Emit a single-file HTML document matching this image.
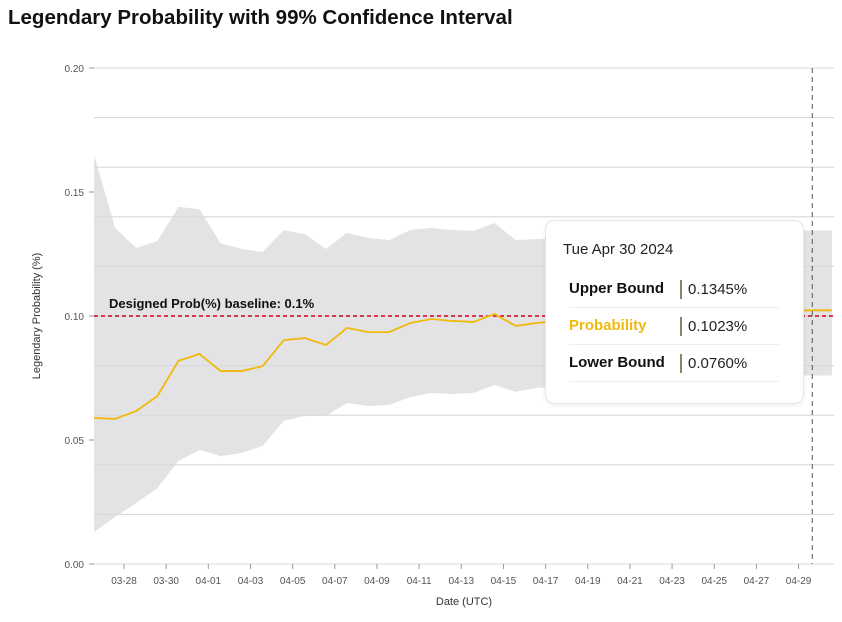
<!DOCTYPE html>
<html><head><meta charset="utf-8"><style>
body{margin:0;background:#fff;font-family:"Liberation Sans",sans-serif;}
#wrap{position:relative;width:842px;height:622px;overflow:hidden}
h1{position:absolute;left:8px;top:6px;margin:0;font-size:20.5px;font-weight:bold;color:#111}
#tip{position:absolute;left:545px;top:220px;width:257px;height:182px;background:#fff;border:1px solid #e6e6e6;border-radius:10px;box-shadow:0 1px 4px rgba(0,0,0,0.08)}
.dt{position:absolute;left:17px;top:20px;font-size:15px;color:#222}
.row{position:absolute;left:23px;width:210px;height:36px;border-bottom:1px solid #eee;font-size:15px}
.row .k{position:absolute;left:0;top:9px;font-weight:bold;color:#111}
.row .v{position:absolute;left:111px;top:9px;color:#222;border-left:2px solid #888860;padding-left:6px;line-height:19px}
</style></head><body>
<div id="wrap">
<h1>Legendary Probability with 99% Confidence Interval</h1>
<svg id="svg" width="842" height="622" style="position:absolute;left:0;top:0"></svg>
<div id="tip">
<div class="dt">Tue Apr 30 2024</div>
<div class="row" style="top:50px"><span class="k">Upper Bound</span><span class="v">0.1345%</span></div>
<div class="row" style="top:87px"><span class="k" style="color:#f0b90b">Probability</span><span class="v">0.1023%</span></div>
<div class="row" style="top:124px"><span class="k">Lower Bound</span><span class="v">0.0760%</span></div>
</div>
</div>
<script>
const dayOffsets=[-1.42,-0.42,0.58,1.58,2.58,3.58,4.58,5.58,6.58,7.58,8.58,9.58,10.58,11.58,12.58,13.58,14.58,15.58,16.58,17.58,18.58,19.58,20.58,21.58,22.58,23.58,24.58,25.58,26.58,27.58,28.58,29.58,30.58,31.58,32.58,33.58];
const probability=[0.0589,0.0585,0.0617,0.0677,0.0819,0.0847,0.0778,0.0778,0.0798,0.0903,0.0911,0.0883,0.0952,0.0935,0.0935,0.0972,0.0988,0.098,0.0976,0.1008,0.096,0.0972,0.098,0.0985,0.099,0.0995,0.1,0.1,0.1005,0.101,0.1012,0.1015,0.1018,0.102,0.1023,0.1023];
const upper=[0.1649,0.1355,0.1274,0.1302,0.144,0.1431,0.1294,0.127,0.1258,0.1347,0.133,0.127,0.1335,0.1315,0.1306,0.1347,0.1355,0.1347,0.1343,0.1375,0.1306,0.131,0.1315,0.132,0.1325,0.133,0.1332,0.1335,0.1338,0.134,0.1342,0.1343,0.1344,0.1345,0.1345,0.1345];
const lower=[0.0129,0.019,0.0246,0.0306,0.0415,0.046,0.0435,0.0448,0.0476,0.0577,0.0597,0.0597,0.0649,0.0637,0.0641,0.0673,0.069,0.0685,0.069,0.0722,0.0694,0.071,0.0715,0.072,0.0725,0.073,0.0735,0.074,0.0745,0.075,0.0752,0.0755,0.0758,0.076,0.076,0.076];
const yTicks=[0,0.05,0.1,0.15,0.2];
const xTickLabels=["03-28","03-30","04-01","04-03","04-05","04-07","04-09","04-11","04-13","04-15","04-17","04-19","04-21","04-23","04-25","04-27","04-29"];
const baseline=0.1;
const hoverDay=32.65;
const NS="http://www.w3.org/2000/svg";
const svg=document.getElementById('svg');
const L=94,R=834,T=68,B=564;
const X=d=>124+21.08*d;
const Y=v=>B-(v/0.2)*(B-T);
function mk(tag,at,parent){const e=document.createElementNS(NS,tag);for(const k in at)e.setAttribute(k,at[k]);(parent||svg).appendChild(e);return e;}
let d='';dayOffsets.forEach((dd,i)=>{d+=(i?'L':'M')+X(dd)+','+Y(upper[i]);});
for(let i=dayOffsets.length-1;i>=0;i--)d+='L'+X(dayOffsets[i])+','+Y(lower[i]);
const band=mk('path',{d:d+'Z',fill:'#e3e3e5'});


for(let i=0;i<=10;i++){const g=mk('line',{x1:L,x2:R,y1:Y(i*0.02),y2:Y(i*0.02),stroke:'#d9d9d9','stroke-width':1.1});

}
yTicks.forEach(v=>{const t=mk('text',{x:84,y:Y(v)+4,'text-anchor':'end','font-size':10,fill:'#555'});t.textContent=v.toFixed(2);


mk('line',{x1:89,x2:94,y1:Y(v),y2:Y(v),stroke:'#999'});});
xTickLabels.forEach((s,i)=>{const x=X(i*2);mk('line',{x1:x,x2:x,y1:B,y2:B+5,stroke:'#999'});
const t=mk('text',{x:x,y:B+20,'text-anchor':'middle','font-size':10,fill:'#555'});t.textContent=s;

});
const bl=mk('line',{x1:L,x2:R,y1:Y(baseline),y2:Y(baseline),stroke:'#d0021b','stroke-width':1.5,'stroke-dasharray':'4,3'});


const blt=mk('text',{x:109,y:Y(baseline)-8,'font-size':13,'font-weight':'bold',fill:'#111'});blt.textContent='Designed Prob(%) baseline: 0.1%';


let p='';dayOffsets.forEach((dd,i)=>{p+=(i?'L':'M')+X(dd)+','+Y(probability[i]);});
const pl=mk('path',{d:p,fill:'none',stroke:'#f0b90b','stroke-width':1.8});


const hv=mk('line',{x1:X(hoverDay),x2:X(hoverDay),y1:T,y2:B,stroke:'#555','stroke-dasharray':'5,4'});


const yt=mk('text',{x:0,y:0,'font-size':11,fill:'#333','text-anchor':'middle',transform:'translate(40,316) rotate(-90)'});yt.textContent='Legendary Probability (%)';


const xt=mk('text',{x:464,y:605,'font-size':11,fill:'#333','text-anchor':'middle'});xt.textContent='Date (UTC)';


</script>
</body></html>
